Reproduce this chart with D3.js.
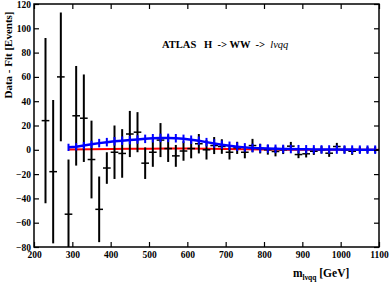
<!DOCTYPE html>
<html>
<head>
<meta charset="utf-8">
<script src="https://cdn.jsdelivr.net/npm/d3@7"></script>
<style>
  body { margin: 0; background: #fff; }
  svg { display: block; }
  text { font-family: "Liberation Serif", "DejaVu Serif", serif; }
</style>
</head>
<body>
<div id="chart"></div>
<script>
// data - fit residuals, 20 GeV bins
var dataMass = [230,250,270,290,310,330,350,370,390,410,430,450,470,490,510,530,550,570,590,610,
                630,650,670,690,710,730,750,770,790,810,830,850,870,890,910,930,950,970,990,1010,
                1030,1050,1070,1090];
var dataVal = [24,-18,60,-53,28,26,-8,-49,-15,-2,-3,13,14.5,-11,-2,8,1,-5,-1,1,
               5,0,3.5,2.7,-2,1.6,-2,3.5,1,0,-1.4,0,3,-3.9,-3.3,-1.2,0,-2.8,2.7,0,
               -1.2,0,0,0];
var dataErr = [68,59,53,45,41,36,32,27,13,22,20,19,16.5,13,12,14,11,9,8,8,
               8,8,7,6,6,5,5,5.5,4,4,4,3.5,3.5,3,3,3,3,3,3,3,
               3,2.5,2.5,2.5];

// signal curve (blue) with its uncertainty
var blueMass = [290,310,330,350,370,390,410,430,450,470,490,510,530,550,570,590,610,630,650,670,
                690,710,730,750,770,790,810,830,850,870,890,910,930,950,970,990,1010,1030,1050,1070,1090];
var blueVal = [2,2.5,3.5,4.5,5.5,6.3,7,7.5,8,8.5,9,9.5,9.8,9.8,9.5,9,8.3,7.5,6.3,5.2,
               4.2,3.3,2.6,2,1.5,1.2,1,0.8,0.7,0.6,0.5,0.4,0.35,0.3,0.25,0.2,0.2,0.15,0.1,0.1,0.1];
var blueErr = [3,3,3,3,3.5,3.5,3.5,3.5,3.5,3.5,3.5,3.5,3.5,3.5,3.5,3.5,3.5,3.5,3.5,3.5,
               3.5,3.5,3.5,3.5,3.5,3.5,3.5,3.5,3.5,3.5,3.5,3.5,3.5,3.5,3.5,3.5,3.5,3.5,3.5,3.5,3.5];

// second curve (red)
var redMass = [290,350,400,450,500,550,600,650,700,750,800,850,900,1000,1100];
var redVal = [0.3,0.5,0.6,0.8,0.9,1,1,0.9,0.7,0.4,0.2,0.1,0.05,0,0];

var xTicks = [200,300,400,500,600,700,800,900,1000,1100];
var yTicks = [-80,-60,-40,-20,0,20,40,60,80,100,120];

var width = 390, height = 285;
var margin = {left: 34, right: 11, top: 4, bottom: 38};

var svg = d3.select("#chart").append("svg")
    .attr("width", width)
    .attr("height", height);

var x = d3.scaleLinear().domain([200, 1100]).range([margin.left, width - margin.right]);
var y = d3.scaleLinear().domain([-80, 120]).range([height - margin.bottom, margin.top]);

svg.append("clipPath").attr("id", "clip")
  .append("rect")
    .attr("x", x(200)).attr("y", y(120))
    .attr("width", x(1100) - x(200)).attr("height", y(-80) - y(120));

var plot = svg.append("g").attr("clip-path", "url(#clip)");

// red curve
var line = d3.line().x(function(d) { return x(d[0]); }).y(function(d) { return y(d[1]); });
plot.append("path")
    .datum(redMass.map(function(m, i) { return [m, redVal[i]]; }))
    .attr("d", line)
    .attr("fill", "none")
    .attr("stroke", "#ff0000")
    .attr("stroke-width", 2);

// data points with error bars
var pts = plot.selectAll("g.pt")
    .data(dataMass.map(function(m, i) { return {m: m, v: dataVal[i], e: dataErr[i]}; }))
    .enter().append("g").attr("class", "pt");

pts.append("line")
    .attr("x1", function(d) { return x(d.m); })
    .attr("x2", function(d) { return x(d.m); })
    .attr("y1", function(d) { return y(d.v + d.e); })
    .attr("y2", function(d) { return y(d.v - d.e); })
    .attr("stroke", "#000").attr("stroke-width", 2);

pts.append("line")
    .attr("x1", function(d) { return x(d.m - 10); })
    .attr("x2", function(d) { return x(d.m + 10); })
    .attr("y1", function(d) { return y(d.v); })
    .attr("y2", function(d) { return y(d.v); })
    .attr("stroke", "#000").attr("stroke-width", 1.5);

// blue curve with ticks
plot.append("path")
    .datum(blueMass.map(function(m, i) { return [m, blueVal[i]]; }))
    .attr("d", line)
    .attr("fill", "none")
    .attr("stroke", "#0000ff")
    .attr("stroke-width", 2.5);

plot.selectAll("line.berr")
    .data(blueMass.map(function(m, i) { return {m: m, v: blueVal[i], e: blueErr[i]}; }))
    .enter().append("line").attr("class", "berr")
    .attr("x1", function(d) { return x(d.m); })
    .attr("x2", function(d) { return x(d.m); })
    .attr("y1", function(d) { return y(d.v + d.e); })
    .attr("y2", function(d) { return y(d.v - d.e); })
    .attr("stroke", "#0000ff").attr("stroke-width", 2);

// axes with inward ticks on all four sides
function styleAxis(g) {
  g.select(".domain").remove();
  g.selectAll("line").attr("stroke", "#000").attr("stroke-width", 1.2);
  g.selectAll("text")
    .attr("font-family", "Liberation Serif, serif")
    .attr("font-weight", "bold")
    .attr("font-size", "9.5px")
    .attr("fill", "#000");
}

svg.append("g")
    .attr("transform", "translate(0," + y(-80) + ")")
    .call(d3.axisBottom(x).tickValues(xTicks).tickSize(-5).tickPadding(4).tickFormat(d3.format("d")))
    .call(styleAxis);

svg.append("g")
    .attr("transform", "translate(0," + y(120) + ")")
    .call(d3.axisTop(x).tickValues(xTicks).tickSize(-5).tickFormat(""))
    .call(styleAxis);

svg.append("g")
    .attr("transform", "translate(" + x(200) + ",0)")
    .call(d3.axisLeft(y).tickValues(yTicks).tickSize(-5).tickPadding(3).tickFormat(d3.format("d")))
    .call(styleAxis);

svg.append("g")
    .attr("transform", "translate(" + x(1100) + ",0)")
    .call(d3.axisRight(y).tickValues(yTicks).tickSize(-5).tickFormat(""))
    .call(styleAxis);

// frame
svg.append("rect")
    .attr("x", x(200)).attr("y", y(120))
    .attr("width", x(1100) - x(200)).attr("height", y(-80) - y(120))
    .attr("fill", "none").attr("stroke", "#000").attr("stroke-width", 1.5);

// title
var title = svg.append("text")
    .attr("x", 162).attr("y", 48)
    .attr("font-size", "10.5px")
    .attr("font-weight", "bold")
    .attr("xml:space", "preserve");
title.append("tspan").text("ATLAS   H  -> WW  ->  ");
title.append("tspan").attr("font-style", "italic").attr("font-weight", "normal").text("lνqq");

// axis titles
svg.append("text")
    .attr("transform", "translate(12,55) rotate(-90)")
    .attr("text-anchor", "middle")
    .attr("font-size", "11px")
    .attr("font-weight", "bold")
    .text("Data - Fit [Events]");

var xl = svg.append("text")
    .attr("x", 293).attr("y", 277)
    .attr("font-size", "11.5px")
    .attr("font-weight", "bold")
    .attr("xml:space", "preserve");
xl.append("tspan").text("m");
xl.append("tspan").attr("font-size", "7.5px").attr("dy", 3).text("lνqq");
xl.append("tspan").attr("dy", -3).text(" [GeV]");
</script>
</body>
</html>
